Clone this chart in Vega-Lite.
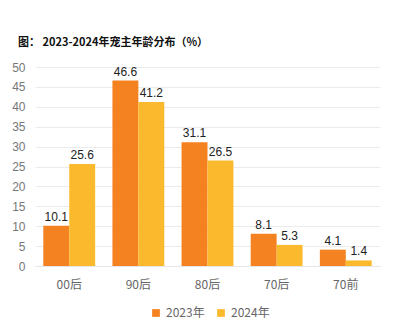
{
  "$schema": "https://vega.github.io/schema/vega-lite/v6.json",
  "width": 345,
  "height": 199,
  "autosize": {"type": "none"},
  "padding": {"left": 35, "top": 67, "right": 15, "bottom": 56},
  "background": "white",
  "title": {
    "text": "图： 2023-2024年宠主年龄分布（%）",
    "anchor": "start",
    "frame": "group",
    "dx": -17,
    "offset": 13,
    "fontSize": 11,
    "fontWeight": "bold",
    "font": "Noto Sans CJK SC",
    "color": "#111"
  },
  "data": {
    "values": [
      {"age": "00后", "year": "2023年", "value": 10.1},
      {"age": "00后", "year": "2024年", "value": 25.6},
      {"age": "90后", "year": "2023年", "value": 46.6},
      {"age": "90后", "year": "2024年", "value": 41.2},
      {"age": "80后", "year": "2023年", "value": 31.1},
      {"age": "80后", "year": "2024年", "value": 26.5},
      {"age": "70后", "year": "2023年", "value": 8.1},
      {"age": "70后", "year": "2024年", "value": 5.3},
      {"age": "70前", "year": "2023年", "value": 4.1},
      {"age": "70前", "year": "2024年", "value": 1.4}
    ]
  },
  "encoding": {
    "x": {
      "field": "age", "type": "nominal", "sort": null,
      "scale": {"paddingInner": 0.25, "paddingOuter": 0.12},
      "axis": {"title": null, "labelAngle": 0, "labelColor": "#666", "labelFontSize": 12, "labelFont": "Noto Sans CJK SC", "domain": true, "domainColor": "#e6e6e6", "ticks": false, "labelPadding": 13}
    },
    "xOffset": {"field": "year", "type": "nominal"},
    "y": {
      "field": "value", "type": "quantitative",
      "scale": {"domain": [0, 50]},
      "axis": {"title": null, "values": [0,5,10,15,20,25,30,35,40,45,50], "domain": false, "ticks": false, "labelColor": "#777", "labelFontSize": 12, "labelFont": "Liberation Sans", "gridColor": "#ebebeb", "labelPadding": 10}
    }
  },
  "layer": [
    {
      "mark": {"type": "bar"},
      "encoding": {
        "color": {
          "field": "year", "type": "nominal",
          "scale": {"range": ["#F58220", "#FBBA2D"]},
          "legend": {"title": null, "orient": "none", "direction": "horizontal", "legendX": 115, "legendY": 240, "symbolType": "square", "symbolSize": 60, "labelFontSize": 12, "labelColor": "#666", "labelFont": "Noto Sans CJK SC", "columnPadding": 10, "symbolStrokeWidth": 0}
        }
      }
    },
    {
      "mark": {"type": "text", "dy": -9, "fontSize": 12, "color": "#222", "font": "Liberation Sans"},
      "encoding": {"text": {"field": "value", "type": "quantitative", "format": ".1f"}}
    }
  ],
  "config": {"view": {"stroke": null}}
}
